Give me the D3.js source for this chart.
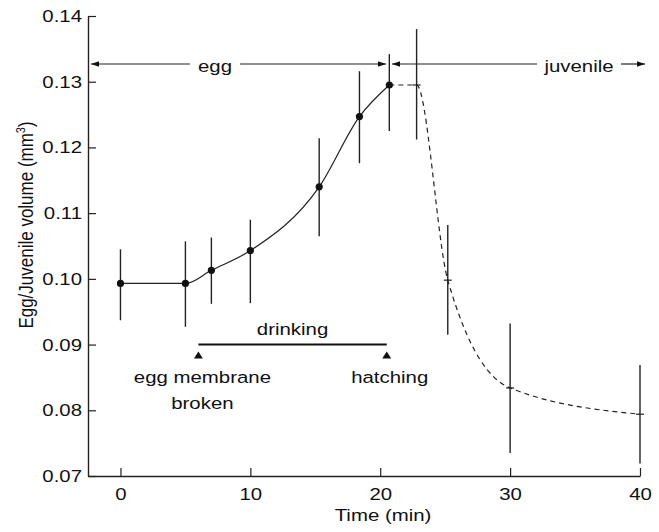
<!DOCTYPE html>
<html>
<head>
<meta charset="utf-8">
<script src="https://cdn.jsdelivr.net/npm/d3@7"></script>
<style>
  body { margin: 0; background: #fff; }
  text { font-family: "Liberation Sans", Arial, Helvetica, sans-serif; fill: #111; }
</style>
</head>
<body>
<div id="vis1"></div>
<script>
// Egg phase (solid line, filled dots)
const EGG_T = [0, 5, 7, 10, 15.3, 18.4, 20.7];
const EGG_V = [0.0993, 0.0993, 0.1013, 0.1043, 0.1140, 0.1247, 0.1295];
const EGG_LO = [0.0937, 0.0927, 0.0962, 0.0963, 0.1065, 0.1176, 0.1225];
const EGG_HI = [0.1045, 0.1057, 0.1063, 0.1090, 0.1214, 0.1316, 0.1342];

// Juvenile phase (dashed line, crosses)
const JUV_T = [22.8, 25.2, 30, 40];
const JUV_V = [0.1295, 0.0998, 0.0834, 0.0794];
const JUV_LO = [0.1212, 0.0915, 0.0735, 0.0719];
const JUV_HI = [0.1380, 0.1082, 0.0932, 0.0869];

const X_TICKS = [0, 10, 20, 30, 40];
const Y_TICKS = [0.07, 0.08, 0.09, 0.10, 0.11, 0.12, 0.13, 0.14];

// Events
const DRINK_START = 6.0;
const DRINK_END = 20.5;
const HATCH_T = 20.6;

const FRAME_HEIGHT = 532;
const FRAME_WIDTH = 659;
const SX = 1.2; // text is a bit wide in the original

const FRAME1 = d3.select("#vis1")
                 .append("svg")
                 .attr("height", FRAME_HEIGHT)
                 .attr("width", FRAME_WIDTH);

const X = d3.scaleLinear().domain([-2.5, 40]).range([88, 640]);
const Y = d3.scaleLinear().domain([0.07, 0.14]).range([476, 16]);

// stretched text helper
function label(x, y, str, anchor, size) {
  return FRAME1.append("text")
    .attr("transform", "translate(" + x + "," + y + ") scale(" + SX + ",1)")
    .attr("text-anchor", anchor || "middle")
    .attr("font-size", (size || 17) + "px")
    .text(str);
}

// Axes
const xAxis = FRAME1.append("g")
  .attr("transform", "translate(0," + Y(0.07) + ")")
  .call(d3.axisBottom(X).tickValues(X_TICKS).tickSizeInner(-8).tickSizeOuter(0).tickPadding(12));
const yAxis = FRAME1.append("g")
  .attr("transform", "translate(" + X(-2.5) + ",0)")
  .call(d3.axisLeft(Y).tickValues(Y_TICKS).tickSizeInner(-8).tickSizeOuter(0)
          .tickFormat(d3.format(".2f")).tickPadding(6));

[xAxis, yAxis].forEach(g => {
  g.select(".domain").attr("stroke", "#222").attr("stroke-width", 1.4);
  g.selectAll(".tick line").attr("stroke", "#222").attr("stroke-width", 1.2);
  g.selectAll(".tick text")
   .attr("font-size", "17px")
   .attr("fill", "#111")
   .attr("font-family", "Liberation Sans, Arial, sans-serif")
   .each(function() {
     const t = d3.select(this);
     const x = +t.attr("x") || 0;
     const y = +t.attr("y") || 0;
     t.attr("x", null).attr("y", null)
      .attr("transform", "translate(" + x + "," + y + ") scale(" + SX + ",1)");
   });
});

// Axis titles
label(383, 521, "Time (min)");
FRAME1.append("text")
  .attr("transform", "translate(33,225) rotate(-90) scale(1," + SX + ")")
  .attr("text-anchor", "middle")
  .attr("font-size", "17px")
  .html("Egg/Juvenile volume (mm<tspan baseline-shift='super' font-size='11px'>3</tspan>)");

// Arrow marker
const defs = FRAME1.append("defs");
defs.append("marker")
  .attr("id", "ah")
  .attr("viewBox", "0 0 10 10")
  .attr("refX", 10).attr("refY", 5)
  .attr("markerWidth", 10).attr("markerHeight", 8)
  .attr("markerUnits", "userSpaceOnUse")
  .attr("orient", "auto-start-reverse")
  .append("path").attr("d", "M0,1.5 L10,5 L0,8.5 Z").attr("fill", "#111");

function arrow(x1, x2, y, start, end) {
  const l = FRAME1.append("line")
    .attr("x1", x1).attr("x2", x2).attr("y1", y).attr("y2", y)
    .attr("stroke", "#222").attr("stroke-width", 1.2);
  if (start) l.attr("marker-start", "url(#ah)");
  if (end) l.attr("marker-end", "url(#ah)");
}

// egg / juvenile phase arrows
const ARW_Y = 64;
arrow(X(-2.5) + 3, 190, ARW_Y, true, false);
label(215, 72, "egg");
arrow(240, X(HATCH_T) - 2, ARW_Y, false, true);
arrow(X(HATCH_T) + 4, 537, ARW_Y, true, false);
label(579, 72, "juvenile");
arrow(621, 645, ARW_Y, false, true);

// Drinking bar and event markers
FRAME1.append("line")
  .attr("x1", X(DRINK_START)).attr("x2", X(DRINK_END))
  .attr("y1", Y(0.09)).attr("y2", Y(0.09))
  .attr("stroke", "#111").attr("stroke-width", 2);
label((X(DRINK_START) + X(DRINK_END)) / 2, 335, "drinking");

[DRINK_START, DRINK_END].forEach(t => {
  FRAME1.append("path")
    .attr("transform", "translate(" + X(t) + "," + (Y(0.09) + 7) + ")")
    .attr("d", "M0,0 L4.5,7 L-4.5,7 Z")
    .attr("fill", "#111");
});
label(X(DRINK_START) + 4, 383, "egg membrane");
label(X(DRINK_START) + 4, 409, "broken");
label(X(DRINK_END) + 3, 383, "hatching");

// Curves
const line = d3.line().x(d => X(d[0])).y(d => Y(d[1])).curve(d3.curveMonotoneX);
const eggPts = EGG_T.map((t, i) => [t, EGG_V[i]]);
const juvPts = [[EGG_T[EGG_T.length - 1], EGG_V[EGG_V.length - 1]]]
  .concat(JUV_T.map((t, i) => [t, JUV_V[i]]));

FRAME1.append("path").datum(eggPts)
  .attr("d", line).attr("fill", "none")
  .attr("stroke", "#222").attr("stroke-width", 1.2);
FRAME1.append("path").datum(juvPts)
  .attr("d", line).attr("fill", "none")
  .attr("stroke", "#222").attr("stroke-width", 1.2)
  .attr("stroke-dasharray", "5,4");

// Error bars
EGG_T.forEach((t, i) => {
  FRAME1.append("line")
    .attr("x1", X(t)).attr("x2", X(t))
    .attr("y1", Y(EGG_LO[i])).attr("y2", Y(EGG_HI[i]))
    .attr("stroke", "#222").attr("stroke-width", 1.4);
});
JUV_T.forEach((t, i) => {
  FRAME1.append("line")
    .attr("x1", X(t)).attr("x2", X(t))
    .attr("y1", Y(JUV_LO[i])).attr("y2", Y(JUV_HI[i]))
    .attr("stroke", "#222").attr("stroke-width", 1.4);
  FRAME1.append("line")
    .attr("x1", X(t) - 4).attr("x2", X(t) + 4)
    .attr("y1", Y(JUV_V[i])).attr("y2", Y(JUV_V[i]))
    .attr("stroke", "#222").attr("stroke-width", 1.2);
});

// Dots
FRAME1.selectAll(".dot").data(eggPts).enter()
  .append("circle")
  .attr("cx", d => X(d[0])).attr("cy", d => Y(d[1]))
  .attr("r", 3.6).attr("fill", "#111");
</script>
</body>
</html>
